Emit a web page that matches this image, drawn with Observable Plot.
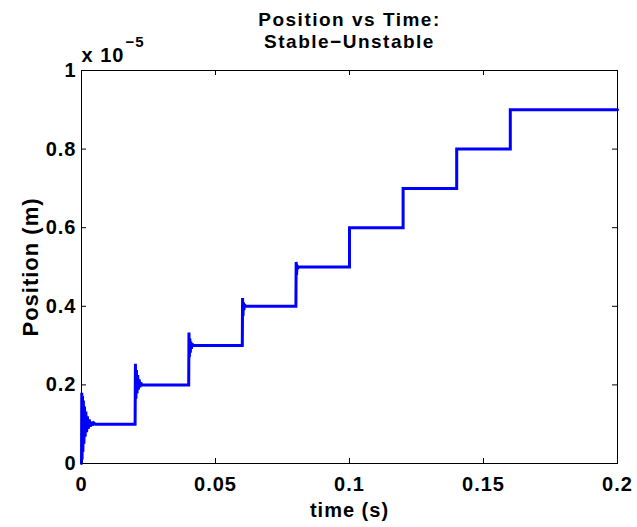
<!DOCTYPE html>
<html>
<head>
<meta charset="utf-8">
<script src="https://cdn.jsdelivr.net/npm/d3@7"></script>
<script src="https://cdn.jsdelivr.net/npm/@observablehq/plot@0.6"></script>
<style>
  body { margin: 0; background: #fff; }
</style>
</head>
<body>
<div id="chart"></div>
<script>
// Commanded position steps (position in units of 1e-5 m)
const stepTimes  = [0, 0.02, 0.04, 0.06, 0.08, 0.10, 0.12, 0.14, 0.16];
const stepLevels = [0.1, 0.2, 0.3, 0.4, 0.5, 0.6, 0.7, 0.8, 0.9];
const endTime = 0.2;

// Transient just after each step: [seconds after the step, position]
const ring0 = [[0, 0], [0.0001, 0.180], [0.00022, 0.010], [0.00036, 0.172], [0.00052, 0.030],
  [0.0007, 0.160], [0.0009, 0.050], [0.00112, 0.145], [0.00136, 0.068], [0.00162, 0.132],
  [0.0019, 0.080], [0.0022, 0.120], [0.00252, 0.088], [0.00288, 0.112], [0.00326, 0.094],
  [0.00366, 0.106], [0.0041, 0.097], [0.0046, 0.103], [0.0052, 0.100]];
const ring1 = [[0, 0.1], [0.00012, 0.254], [0.0003, 0.165], [0.0005, 0.238], [0.00072, 0.178],
  [0.00096, 0.225], [0.00122, 0.188], [0.0015, 0.214], [0.0018, 0.194], [0.0021, 0.206], [0.0025, 0.2]];
const ring2 = [[0, 0.2], [0.0001, 0.333], [0.00025, 0.27], [0.00042, 0.318], [0.0006, 0.282],
  [0.0008, 0.31], [0.001, 0.292], [0.0013, 0.305], [0.0016, 0.3]];
const ring3 = [[0, 0.3], [0.0001, 0.421], [0.00025, 0.375], [0.0004, 0.41], [0.0006, 0.39],
  [0.0008, 0.405], [0.0011, 0.4]];
const ring4 = [[0, 0.4], [0.0001, 0.513], [0.00025, 0.48], [0.0004, 0.505], [0.0006, 0.495], [0.0009, 0.5]];
const transients = [ring0, ring1, ring2, ring3, ring4, [], [], [], []];

// Axis ticks
const xTicks = [0, 0.05, 0.1, 0.15, 0.2];
const yTicks = [0, 0.2, 0.4, 0.6, 0.8, 1];

// Assemble the response trace
const trace = [];
stepTimes.forEach((t0, i) => {
  const prev = i === 0 ? 0 : stepLevels[i - 1];
  const tr = transients[i];
  if (tr.length) {
    tr.forEach(([dt, v]) => trace.push({t: t0 + dt, p: v}));
  } else {
    trace.push({t: t0, p: prev}, {t: t0, p: stepLevels[i]});
  }
  const next = i + 1 < stepTimes.length ? stepTimes[i + 1] : endTime;
  trace.push({t: next, p: stepLevels[i]});
});

const W = 637, H = 527;
const mL = 81, mR = 20, mT = 70, mB = 64;
const fw = W - mL - mR, fh = H - mT - mB;
const tickLen = 5;

const chart = Plot.plot({
  width: W,
  height: H,
  marginLeft: mL,
  marginRight: mR,
  marginTop: mT,
  marginBottom: mB,
  style: {
    fontFamily: "'Liberation Sans', Arial, Helvetica, sans-serif",
    fontSize: "20px",
    fontWeight: "bold",
    letterSpacing: "1px",
    color: "#000",
    background: "#fff"
  },
  x: {domain: [0, 0.2]},
  y: {domain: [0, 1]},
  marks: [
    // inward ticks on all four sides
    Plot.tickX(xTicks, {x: d => d, insetTop: fh - tickLen, stroke: "#000"}),
    Plot.tickX(xTicks, {x: d => d, insetBottom: fh - tickLen, stroke: "#000"}),
    Plot.tickY(yTicks, {y: d => d, insetRight: fw - tickLen, stroke: "#000"}),
    Plot.tickY(yTicks, {y: d => d, insetLeft: fw - tickLen, stroke: "#000"}),
    Plot.axisX({ticks: xTicks, tickSize: 0, tickPadding: 13, tickFormat: d => String(d), label: null}),
    Plot.axisY({ticks: yTicks, tickSize: 0, tickPadding: 5, tickFormat: d => String(d), label: null}),
    Plot.line(trace, {x: "t", y: "p", stroke: "#0000ff", strokeWidth: 3, strokeLinejoin: "miter", strokeMiterlimit: 2}),
    Plot.frame({stroke: "#000", strokeWidth: 1}),
    // titles and labels
    Plot.text(["Position vs Time:\nStable\u2212Unstable"], {
      frameAnchor: "top", dy: -40.5, lineAnchor: "middle", lineHeight: 1.15,
      fontSize: 19, text: d => d
    }),
    Plot.text(["time (s)"], {frameAnchor: "bottom", dy: 47, lineAnchor: "middle", text: d => d}),
    Plot.text(["Position (m)"], {frameAnchor: "left", dx: -51, rotate: -90, textAnchor: "middle", lineAnchor: "middle", fontSize: 22, text: d => d}),
    Plot.text(["x 10"], {frameAnchor: "top-left", dy: -15, textAnchor: "start", lineAnchor: "middle", text: d => d}),
    Plot.text(["\u22125"], {frameAnchor: "top-left", dx: 44, dy: -28, textAnchor: "start", lineAnchor: "middle", fontSize: 15, text: d => d})
  ]
});

// slightly wider tracking for the two-line title
chart.querySelectorAll("text").forEach(t => {
  if (t.textContent.startsWith("Position vs")) t.setAttribute("letter-spacing", "1.5px");
});

document.getElementById("chart").appendChild(chart);
</script>
</body>
</html>
